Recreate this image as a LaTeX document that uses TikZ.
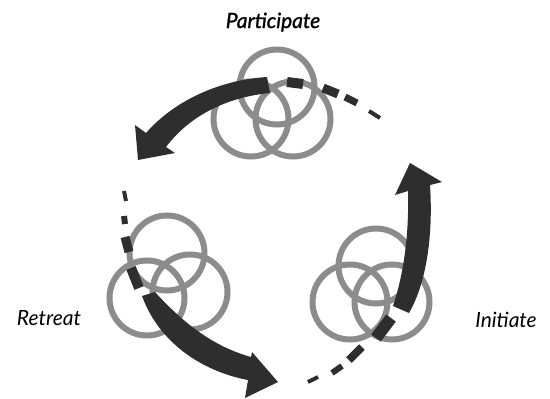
\documentclass[tikz,border=0pt]{standalone}
\usepackage{fontspec}
\setmainfont{Lato}
\newfontfamily\phaseheavy[FakeBold=1.2]{Lato}
\definecolor{ringgray}{gray}{0.55}
\definecolor{arrowdark}{gray}{0.18}
\begin{document}
\begin{tikzpicture}[x=1pt,y=-1pt,
  ring/.style={draw=ringgray,line width=6pt},
  flow/.style={fill=arrowdark},
  trail/.style={draw=arrowdark,line cap=butt},
  phase/.style={font=\fontsize{21}{24}\selectfont\itshape,anchor=base,inner sep=0pt}]
\useasboundingbox (0,0) rectangle (550,399);

% three interlocking rings per phase
\foreach \c in {(277,87),(251,119),(293,119)} \draw[ring] \c circle[radius=37.5];
\foreach \c in {(167,253),(147,298),(190,292)} \draw[ring] \c circle[radius=37.5];
\foreach \c in {(376,266),(350,302),(392,302)} \draw[ring] \c circle[radius=37.5];

% participate -> retreat
\fill[flow] (267,77) .. controls (220,80) and (175,100) .. (146,133)
  -- (135,125) -- (138,160) -- (175,153) -- (166,147)
  .. controls (190,115) and (228,97) .. (270,93) -- cycle;
\draw[trail,line width=10pt] (287,82) -- (303,84);
\draw[trail,line width=9pt] (323,88) -- (338,94);
\draw[trail,line width=7pt] (345,97) -- (357,103);
\draw[trail,line width=4pt] (369,111) -- (380,118);

% retreat -> initiate
\fill[flow] (155,292) .. controls (185,325) and (215,347) .. (251,357)
  -- (252,352) -- (278,382) -- (245,398) -- (248,380)
  .. controls (205,372) and (160,345) .. (142,296) -- cycle;
\draw[trail,line width=10pt] (139,288) -- (131,268);
\draw[trail,line width=9pt] (129,252) -- (125,237);
\draw[trail,line width=6pt] (125,224) -- (124,216);
\draw[trail,line width=4pt] (126,201) -- (124,191);

% initiate -> participate
\fill[flow] (393,306) .. controls (405,270) and (409,230) .. (408,191)
  -- (395,195) -- (410,163) -- (442,182) -- (430,185)
  .. controls (433,230) and (428,280) .. (409,313) -- cycle;
\draw[trail,line width=12pt] (391,318) -- (376,338);
\draw[trail,line width=8pt] (362,347) -- (349,360);
\draw[trail,line width=6pt] (342,366) -- (332,373);
\draw[trail,line width=4pt] (318,377) -- (308,382);

% phase labels
\node[phase,font=\fontsize{21}{24}\selectfont\phaseheavy\itshape] (participate) at (273,28) {Participate};
\node[phase] (retreat) at (49,325) {Retreat};
\node[phase] (initiate) at (506,327) {Initiate};
\end{tikzpicture}
\end{document}
